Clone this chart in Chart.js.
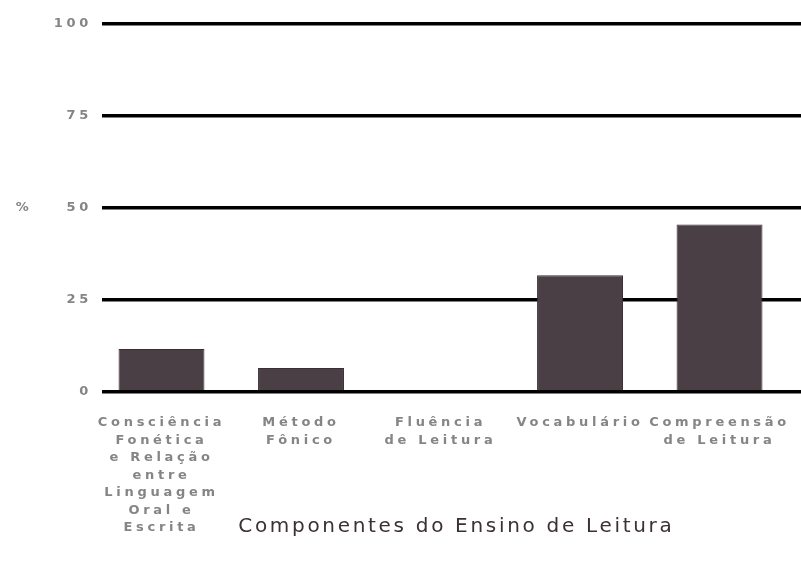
<!DOCTYPE html>
<html>
<head>
<meta charset="utf-8">
<script src="https://cdn.jsdelivr.net/npm/chart.js@4.4.1/dist/chart.umd.min.js"></script>
<style>
html,body{margin:0;padding:0;background:#fff;}
#wrap{width:801px;height:573px;position:relative;}
</style>
</head>
<body>
<div id="wrap"><canvas id="c" width="801" height="573"></canvas></div>
<script>
const categories = [
  ["Consciência", "Fonética", "e Relação", "entre", "Linguagem", "Oral e", "Escrita"],
  ["Método", "Fônico"],
  ["Fluência", "de Leitura"],
  ["Vocabulário"],
  ["Compreensão", "de Leitura"]
];
const values = [11.7, 6.5, 0, 31.7, 45.5];
const yTicks = [0, 25, 50, 75, 100];
const xTitle = "Componentes do Ensino de Leitura";
const yTitle = "%";

const points = values.map((v, i) => ({x: i, y: v}));

const TICK_FONT = 'bold 13px "DejaVu Sans"';
const TITLE_FONT = '20px "DejaVu Sans"';

// letter spacing so the (stretched-looking) reference text widths are matched
function spacingFor(font, text, target) {
  const m = document.createElement('canvas').getContext('2d');
  m.font = font;
  const w = m.measureText(text).width;
  return Math.max(0, (target - w) / text.length);
}
const tickSpacing = spacingFor(TICK_FONT, "Vocabulário", 127);
const titleSpacing = spacingFor(TITLE_FONT, xTitle, 436);

const textPlugin = {
  id: 'extraText',
  beforeDraw(chart) {
    chart.ctx.letterSpacing = tickSpacing.toFixed(2) + 'px';
  },
  afterDraw(chart) {
    const ctx = chart.ctx;
    const y = chart.scales.y;
    ctx.save();
    ctx.fillStyle = '#858585';
    ctx.font = TICK_FONT;
    ctx.letterSpacing = tickSpacing.toFixed(2) + 'px';
    ctx.textAlign = 'center';
    ctx.textBaseline = 'middle';
    ctx.fillText(yTitle, 24, y.getPixelForValue(50));
    ctx.fillStyle = '#3b3034';
    ctx.font = TITLE_FONT;
    ctx.letterSpacing = titleSpacing.toFixed(2) + 'px';
    ctx.fillText(xTitle, 455 + titleSpacing / 2, 527);
    ctx.restore();
  }
};

new Chart(document.getElementById('c'), {
  type: 'bar',
  data: {
    datasets: [{
      data: points,
      backgroundColor: '#4a3f44',
      borderColor: '#3a2e33',
      borderWidth: 1,
      barPercentage: 0.616,
      categoryPercentage: 1
    }]
  },
  options: {
    responsive: false,
    animation: false,
    layout: {padding: {top: 24, right: 0, left: 0, bottom: 0}},
    plugins: {legend: {display: false}, tooltip: {enabled: false}},
    scales: {
      x: {
        type: 'linear',
        offset: false,
        min: -0.4265,
        max: 4.584,
        grid: {display: false, drawTicks: false, offset: false},
        border: {display: false},
        afterFit(s) { s.height = 181; },
        afterBuildTicks(s) { s.ticks = categories.map((c, i) => ({value: i})); },
        ticks: {
          includeBounds: false,
          autoSkip: false,
          maxRotation: 0,
          padding: 22,
          color: '#858585',
          font: {family: 'DejaVu Sans', size: 13, weight: 'bold', lineHeight: 1.35},
          callback: (v) => categories[v] || ''
        }
      },
      y: {
        min: 0,
        max: 100,
        afterFit(s) { s.width = 102; },
        afterBuildTicks(s) { s.ticks = yTicks.map(v => ({value: v})); },
        grid: {color: '#000000', lineWidth: 3.5, drawTicks: false},
        border: {display: false},
        ticks: {
          padding: 10,
          color: '#858585',
          font: {family: 'DejaVu Sans', size: 13, weight: 'bold'}
        }
      }
    }
  },
  plugins: [textPlugin]
});
</script>
</body>
</html>
